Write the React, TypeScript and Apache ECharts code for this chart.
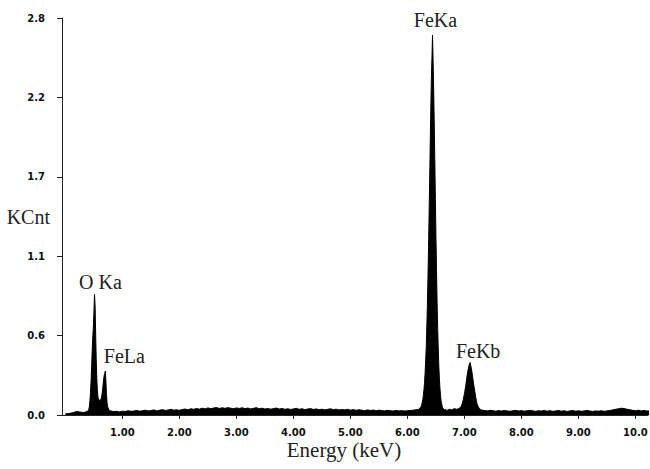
import React, { useEffect, useRef } from "react";
import * as echarts from "echarts";

// ---- Data ----
const xTickValues = [1, 2, 3, 4, 5, 6, 7, 8, 9, 10];
const yTickValues = [0, 0.56, 1.12, 1.68, 2.24, 2.8];

// Channel segments: [start keV, step keV]
const segmentStarts = [0.0, 0.4, 0.8, 6.2, 6.74, 6.9, 7.35];
const segmentSteps = [0.04, 0.01, 0.05, 0.01, 0.04, 0.02, 0.05];

const lowEnergyCounts = [0.008, 0.01, 0.012, 0.015, 0.02, 0.025, 0.022, 0.02, 0.018, 0.022];

const oFeLCounts = [
  0.03, 0.04, 0.06, 0.1, 0.16, 0.24, 0.34, 0.46, 0.55, 0.62,
  0.72, 0.85, 0.78, 0.58, 0.4, 0.26, 0.18, 0.13, 0.11, 0.1,
  0.1, 0.11, 0.1, 0.12, 0.14, 0.17, 0.21, 0.25, 0.28, 0.29,
  0.31, 0.24, 0.15, 0.09, 0.06, 0.05, 0.04, 0.035, 0.03, 0.03,
];

const backgroundCounts = [
  0.028, 0.024, 0.026, 0.022, 0.027, 0.025, 0.03, 0.026, 0.028, 0.032,
  0.027, 0.03, 0.034, 0.029, 0.031, 0.036, 0.03, 0.033, 0.038, 0.032,
  0.035, 0.04, 0.034, 0.037, 0.033, 0.039, 0.042, 0.036, 0.044, 0.04,
  0.046, 0.041, 0.048, 0.043, 0.05, 0.045, 0.049, 0.053, 0.046, 0.051,
  0.047, 0.052, 0.048, 0.044, 0.05, 0.046, 0.051, 0.045, 0.049, 0.043,
  0.047, 0.052, 0.044, 0.048, 0.042, 0.046, 0.041, 0.045, 0.049, 0.042,
  0.046, 0.04, 0.044, 0.039, 0.043, 0.047, 0.04, 0.044, 0.038, 0.042,
  0.045, 0.039, 0.043, 0.037, 0.041, 0.036, 0.04, 0.044, 0.037, 0.041,
  0.035, 0.039, 0.036, 0.04, 0.034, 0.038, 0.033, 0.037, 0.034, 0.031,
  0.036, 0.032, 0.035, 0.03, 0.034, 0.031, 0.029, 0.033, 0.03, 0.028,
  0.032, 0.029, 0.031, 0.028, 0.03, 0.032, 0.034, 0.037,
];

const feKaCounts = [
  0.04, 0.04, 0.05, 0.05, 0.06, 0.07, 0.09, 0.11, 0.14, 0.18,
  0.23, 0.3, 0.38, 0.48, 0.62, 0.78, 0.97, 1.18, 1.42, 1.66,
  1.92, 2.16, 2.38, 2.52, 2.68, 2.5, 2.3, 2.06, 1.8, 1.52,
  1.26, 1.02, 0.8, 0.62, 0.47, 0.35, 0.26, 0.19, 0.14, 0.1,
  0.08, 0.06, 0.05, 0.045, 0.04, 0.04, 0.035, 0.04, 0.035, 0.03,
  0.035,
];

const gapCounts = [0.04, 0.035, 0.045, 0.04];

const feKbCounts = [
  0.045, 0.05, 0.06, 0.08, 0.11, 0.15, 0.2, 0.26, 0.31, 0.35,
  0.37, 0.33, 0.28, 0.22, 0.17, 0.12, 0.08, 0.06, 0.045, 0.04,
  0.035,
];

const highEnergyCounts = [
  0.032, 0.029, 0.033, 0.03, 0.027, 0.031, 0.028, 0.032, 0.029, 0.026,
  0.03, 0.033, 0.028, 0.031, 0.027, 0.03, 0.033, 0.029, 0.026, 0.03,
  0.028, 0.032, 0.027, 0.03, 0.026, 0.029, 0.032, 0.027, 0.03, 0.025,
  0.029, 0.031, 0.027, 0.03, 0.026, 0.029, 0.032, 0.028, 0.025, 0.029,
  0.027, 0.03, 0.026, 0.029, 0.032, 0.036, 0.04, 0.044, 0.048, 0.045,
  0.041, 0.037, 0.033, 0.03, 0.034, 0.029, 0.032, 0.028, 0.03,
];

const segmentCounts = [
  lowEnergyCounts,
  oFeLCounts,
  backgroundCounts,
  feKaCounts,
  gapCounts,
  feKbCounts,
  highEnergyCounts,
];

const peakNames = ["O Ka", "FeLa", "FeKa", "FeKb"];
const peakEnergies = [0.51, 0.7, 6.44, 7.1];
const peakCounts = [0.85, 0.31, 2.68, 0.37];

// ---- Styles ----
const peakLabelOffsets: [number, number][] = [
  [6, -12],
  [19, -15],
  [3, -15],
  [8, -12],
];

const SERIF = "'Liberation Serif', 'Times New Roman', serif";
const SANS = "'DejaVu Sans', sans-serif";

function buildSpectrum(): [number, number][] {
  const out: [number, number][] = [];
  segmentCounts.forEach((counts, s) => {
    counts.forEach((c, i) => {
      const e = Math.round((segmentStarts[s] + i * segmentSteps[s]) * 1000) / 1000;
      out.push([e, c]);
    });
  });
  return out;
}

export default function App() {
  const ref = useRef<HTMLDivElement>(null);

  useEffect(() => {
    if (!ref.current) return;
    const chart = echarts.init(ref.current, null, { renderer: "svg" });
    const spectrum = buildSpectrum();

    chart.setOption({
      animation: false,
      backgroundColor: "#ffffff",
      grid: {
        left: 62,
        right: 2,
        top: 18,
        bottom: 54,
        containLabel: false,
        outerBoundsMode: "none",
      },
      xAxis: {
        type: "value",
        min: -0.06,
        max: 10.22,
        name: "Energy (keV)",
        nameLocation: "middle",
        nameGap: 24,
        nameMoveOverlap: false,
        nameTextStyle: {
          fontFamily: SERIF,
          fontSize: 21,
          lineHeight: 22,
          color: "#222",
          padding: [0, 22, 0, 0],
        },
        axisLine: { show: true, lineStyle: { color: "#222", width: 1 } },
        axisTick: {
          show: true,
          inside: false,
          length: 4,
          customValues: xTickValues,
          lineStyle: { color: "#222" },
        },
        axisLabel: {
          show: true,
          customValues: xTickValues,
          margin: 11,
          fontFamily: SANS,
          fontWeight: "bold",
          fontSize: 10,
          lineHeight: 12,
          color: "#111",
          formatter: (v: number) => (v >= 10 ? v.toFixed(1) : v.toFixed(2)),
        },
        splitLine: { show: false },
      },
      yAxis: {
        type: "value",
        min: 0,
        max: 2.8,
        name: "KCnt",
        nameLocation: "middle",
        nameRotate: 0,
        nameGap: 12,
        nameMoveOverlap: false,
        nameTextStyle: {
          fontFamily: SERIF,
          fontSize: 20,
          color: "#222",
          align: "right",
          verticalAlign: "middle",
        },
        axisLine: { show: true, onZero: false, lineStyle: { color: "#222", width: 1 } },
        axisTick: {
          show: true,
          inside: false,
          length: 5,
          customValues: yTickValues,
          lineStyle: { color: "#222" },
        },
        axisLabel: {
          show: true,
          customValues: yTickValues,
          margin: 17,
          fontFamily: SANS,
          fontWeight: "bold",
          fontSize: 10,
          color: "#111",
          formatter: (v: number) => v.toFixed(1),
        },
        splitLine: { show: false },
      },
      series: [
        {
          type: "line",
          data: spectrum,
          showSymbol: false,
          symbol: "none",
          silent: true,
          lineStyle: { color: "#000", width: 1 },
          areaStyle: { color: "#000", opacity: 1 },
          markPoint: {
            silent: true,
            symbol: "circle",
            symbolSize: 0,
            itemStyle: { color: "rgba(0,0,0,0)" },
            label: {
              show: true,
              position: "inside",
              fontFamily: SERIF,
              fontSize: 20,
              color: "#222",
              formatter: (p: any) => p.name,
            },
            data: peakNames.map((n, i) => ({
              name: n,
              coord: [peakEnergies[i], peakCounts[i]],
              label: { offset: peakLabelOffsets[i] },
            })),
          },
        },
      ],
    });

    return () => chart.dispose();
  }, []);

  return (
    <div
      ref={ref}
      style={{ position: "fixed", left: 0, top: 0, width: 650, height: 469 }}
    />
  );
}
